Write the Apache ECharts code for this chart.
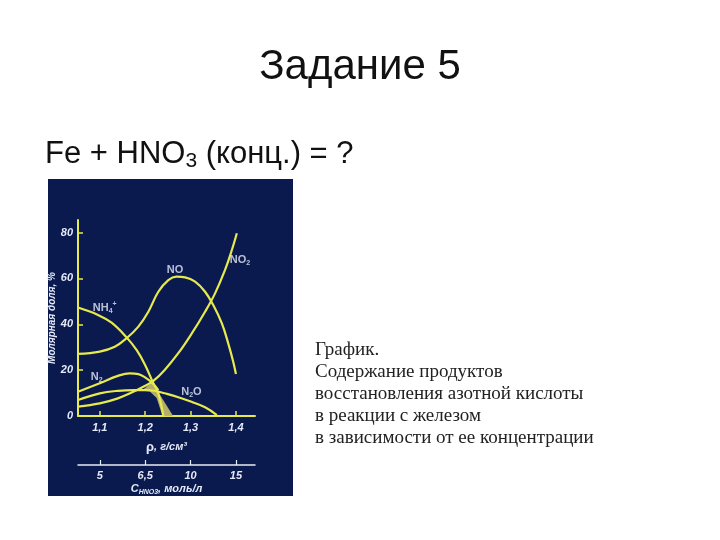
<!DOCTYPE html>
<html><head><meta charset="utf-8">
<script src="https://cdn.jsdelivr.net/npm/echarts@6/dist/echarts.min.js"></script>
<style>html,body{margin:0;padding:0;background:#fff}#c{width:720px;height:540px}</style>
</head><body><div id="c"></div>
<script>
// tick values / labels
const densityTicks = [1.1, 1.2, 1.3, 1.4];
const densityLabels = ['1,1', '1,2', '1,3', '1,4'];
const concLabels = ['5', '6,5', '10', '15'];
const yTicks = [0, 20, 40, 60, 80];

// curves [density g/cm3, mole fraction %]
const nh4Pts = [[1.052,47.3],[1.096,44.1],[1.126,40.7],[1.159,34.3],[1.181,28.8],[1.199,22.6],[1.218,14.3],[1.229,9.9],[1.240,0]];
const noPts = [[1.052,27.1],[1.100,28.1],[1.133,30.2],[1.159,33.9],[1.185,39.0],[1.207,45.5],[1.229,54.2],[1.251,59.3],[1.269,60.8],[1.288,60.5],[1.310,58.6],[1.332,54.2],[1.350,48.4],[1.369,40.4],[1.383,31.7],[1.394,23.7],[1.400,18.3]];
const no2Pts = [[1.052,4.1],[1.100,5.5],[1.140,7.7],[1.170,10.2],[1.199,13.1],[1.218,15.3],[1.243,20.1],[1.273,27.4],[1.302,35.8],[1.332,45.5],[1.354,53.5],[1.376,63.7],[1.391,72.4],[1.402,79.7]];
const n2Pts = [[1.052,10.6],[1.100,14.3],[1.140,17.5],[1.166,18.6],[1.185,18.3],[1.203,16.4],[1.218,14.0],[1.229,11.3]];
const n2oPts = [[1.052,7.0],[1.100,9.9],[1.140,11.0],[1.177,11.3],[1.199,11.3],[1.221,11.0],[1.243,9.9],[1.273,8.2],[1.302,6.2],[1.332,3.8],[1.358,0.4]];
// uncertainty zone
const zonePts = [[1.195,11.3],[1.215,14.4],[1.232,9.2],[1.261,0],[1.239,0],[1.226,7.9],[1.210,10.9]];

// curve labels
const labelTexts = ['{m|NO}', '{m|NO}{s|2}', '{m|NH}{s|4}{p|+}', '{m|N}{s|2}', '{m|N}{s|2}{m|O}'];
const labelAt = [[1.266,63.7],[1.409,68.1],[1.111,47.1],[1.093,17.2],[1.302,10.6]];

const YEL = '#e6ea4c';
const TXT = '#e4eaf8';
const chart = echarts.init(document.getElementById('c'));

function curve(pts) {
  return { type: 'line', data: pts, smooth: 0.4, symbol: 'none', xAxisIndex: 0, yAxisIndex: 0,
    lineStyle: { color: YEL, width: 2.2 }, z: 3, silent: true };
}
const lblFont = 'Liberation Sans';
const axisRich = {
  i: { fontFamily: lblFont, fontStyle: 'italic', fontWeight: 'bold', fontSize: 11, color: TXT, lineHeight: 14, verticalAlign: 'middle' },
  b: { fontFamily: lblFont, fontWeight: 'bold', fontSize: 13, color: TXT, lineHeight: 14, verticalAlign: 'middle' },
  s: { fontFamily: lblFont, fontStyle: 'italic', fontWeight: 'bold', fontSize: 7, color: TXT, lineHeight: 8, verticalAlign: 'bottom' }
};

chart.setOption({
  animation: false,
  backgroundColor: '#ffffff',
  graphic: [
    { type: 'rect', z: -10, shape: { x: 48, y: 179, width: 245, height: 317 }, style: { fill: '#0b1a4e' } },
    { type: 'text', x: 360, y: 67, style: { text: 'Задание 5', font: '42px "Liberation Sans"', fill: '#111', textAlign: 'center', textVerticalAlign: 'middle' } },
    { type: 'text', x: 45, y: 154, style: {
        text: '{m|Fe + HNO}{s|3}{m| (конц.) = ?}', textAlign: 'left', textVerticalAlign: 'middle',
        rich: { m: { font: '31px "Liberation Sans"', fill: '#111', lineHeight: 36, verticalAlign: 'middle' },
                s: { font: '21px "Liberation Sans"', fill: '#111', lineHeight: 20, verticalAlign: 'bottom' } } } },
    { type: 'text', x: 315, y: 339, style: {
        text: 'График.\nСодержание продуктов\nвосстановления азотной кислоты\nв реакции с железом\nв зависимости от ее концентрации',
        font: '19px "Liberation Serif"', lineHeight: 22, fill: '#222', textAlign: 'left', textVerticalAlign: 'top' } }
  ],
  grid: { left: 78, right: 465, top: 220, bottom: 124, containLabel: false },
  xAxis: [
    { type: 'value', min: 1.052, max: 1.442, position: 'bottom',
      axisLine: { show: true, onZero: false, lineStyle: { color: YEL, width: 2 } },
      axisTick: { show: true, inside: true, length: 5, customValues: densityTicks, lineStyle: { color: YEL, width: 1.5 } },
      axisLabel: { customValues: densityTicks, margin: 6, color: TXT, fontFamily: lblFont, fontStyle: 'italic', fontWeight: 'bold', fontSize: 11,
        formatter: v => densityLabels[densityTicks.findIndex(t => Math.abs(t - v) < 1e-6)] || '' },
      splitLine: { show: false },
      name: '{b|ρ}{i|, г/см³}', nameLocation: 'middle', nameGap: 24, nameTextStyle: { rich: axisRich } },
    { type: 'value', min: 1.052, max: 1.442, position: 'bottom', offset: 49,
      axisLine: { show: true, onZero: false, lineStyle: { color: '#e8ecf4', width: 1.5 } },
      axisTick: { show: true, inside: true, length: 5, customValues: densityTicks, lineStyle: { color: '#e8ecf4', width: 1.2 } },
      axisLabel: { customValues: densityTicks, margin: 5, color: TXT, fontFamily: lblFont, fontStyle: 'italic', fontWeight: 'bold', fontSize: 11,
        formatter: v => concLabels[densityTicks.findIndex(t => Math.abs(t - v) < 1e-6)] || '' },
      splitLine: { show: false },
      name: '{i|C}{s|HNO3}{i|, моль/л}', nameLocation: 'middle', nameGap: 17, nameTextStyle: { rich: axisRich } }
  ],
  yAxis: [
    { type: 'value', min: 0, max: 85.5,
      axisLine: { show: true, lineStyle: { color: YEL, width: 2 } },
      axisTick: { show: true, inside: true, length: 5, customValues: yTicks, lineStyle: { color: YEL, width: 1.5 } },
      axisLabel: { customValues: yTicks, margin: 5, color: TXT, fontFamily: lblFont, fontStyle: 'italic', fontWeight: 'bold', fontSize: 11 },
      splitLine: { show: false },
      name: 'Молярная доля, %', nameLocation: 'middle', nameGap: 20, nameRotate: 90,
      nameTextStyle: { color: TXT, fontFamily: lblFont, fontStyle: 'italic', fontWeight: 'bold', fontSize: 10 } }
  ],
  series: [
    { type: 'custom', xAxisIndex: 0, yAxisIndex: 0, silent: true, z: 2, data: [0],
      renderItem: (params, api) => ({ type: 'polygon', shape: { points: zonePts.map(p => api.coord(p)) },
        style: { fill: '#b4b06c', stroke: '#c8c47a', lineWidth: 0.5 } }) },
    curve(nh4Pts), curve(noPts), curve(no2Pts), curve(n2Pts), curve(n2oPts),
    { type: 'scatter', xAxisIndex: 0, yAxisIndex: 0, symbolSize: 0, silent: true, z: 4,
      data: labelAt.map(p => p),
      label: { show: true, position: 'inside',
        formatter: p => labelTexts[p.dataIndex],
        rich: {
          m: { fontFamily: lblFont, fontWeight: 'bold', fontSize: 11, color: TXT, lineHeight: 14, verticalAlign: 'middle' },
          s: { fontFamily: lblFont, fontWeight: 'bold', fontSize: 7, color: TXT, lineHeight: 8, verticalAlign: 'bottom' },
          p: { fontFamily: lblFont, fontWeight: 'bold', fontSize: 7, color: TXT, lineHeight: 8, verticalAlign: 'top' }
        } } }
  ]
});
</script></body></html>
